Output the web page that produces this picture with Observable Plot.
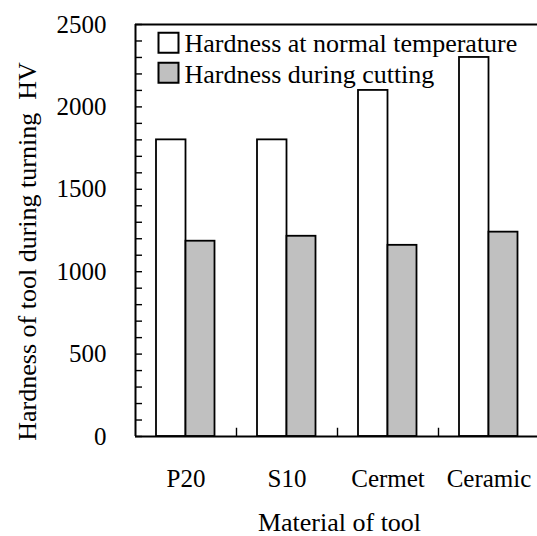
<!DOCTYPE html>
<html>
<head>
<meta charset="utf-8">
<script src="https://cdn.jsdelivr.net/npm/d3@7"></script>
<script src="https://cdn.jsdelivr.net/npm/@observablehq/plot@0.6"></script>
<style>
  html, body { margin: 0; padding: 0; background: #fff; }
  svg, svg text { font-family: "Liberation Serif", "Times New Roman", serif !important; }
</style>
</head>
<body>
<div id="chart"></div>
<script>
const materials = ["P20", "S10", "Cermet", "Ceramic"];
const normalHardness = [1800, 1800, 2100, 2300];
const cuttingHardness = [1185, 1215, 1160, 1240];
const seriesNames = ["Hardness at normal temperature", "Hardness during cutting"];
const seriesColors = ["#ffffff", "#c0c0c0"];
const yMajorTicks = [0, 500, 1000, 1500, 2000, 2500];
const yMinorTicks = d3.range(0, 2501, 100);
const xTitle = "Material of tool";
const yTitle = "Hardness of tool during turning\u00a0\u00a0HV";

const normalRows = materials.map((m, i) => ({material: m, value: normalHardness[i]}));
const cuttingRows = materials.map((m, i) => ({material: m, value: cuttingHardness[i]}));

const serif = "'Liberation Serif', 'Times New Roman', serif";

const chart = Plot.plot({
  width: 537,
  height: 536,
  marginLeft: 135,
  marginRight: 0,
  marginTop: 24,
  marginBottom: 100,
  style: {background: "#fff", color: "#000", fontFamily: serif},
  x: {domain: materials, range: [135, 539], padding: 0},
  y: {domain: [0, 2500], label: null},
  marks: [
    Plot.barY(normalRows, {x: "material", y: "value", fill: seriesColors[0], stroke: "#000", strokeWidth: 1.8, insetLeft: 21, insetRight: 50.5}),
    Plot.barY(cuttingRows, {x: "material", y: "value", fill: seriesColors[1], stroke: "#000", strokeWidth: 1.8, insetLeft: 50.5, insetRight: 21.5}),
    Plot.ruleX(materials.slice(1), {x: d => d, dx: -50.5, y1: 0, y2: 50, stroke: "#000", strokeWidth: 1.4}),
    Plot.ruleY([0, 2500], {stroke: "#000", strokeWidth: 2}),
    Plot.ruleX(materials.slice(0, 1), {x: d => d, dx: -50.5, y1: 0, y2: 2500, stroke: "#000", strokeWidth: 2}),
    Plot.axisY(yMinorTicks, {tickSize: -7, text: null, strokeWidth: 1.4}),
    Plot.axisY(yMajorTicks, {tickSize: 0, tickPadding: 29, fontSize: 25, fontFamily: serif, tickFormat: d => String(d), label: null, fill: "#000"}),
    Plot.axisX(materials, {tickSize: 0, tickPadding: 33, fontSize: 25, fontFamily: serif, label: null, fill: "#000"}),
    Plot.text([xTitle], {frameAnchor: "bottom", dx: 3, dy: 94, lineAnchor: "bottom", textAnchor: "middle", fontSize: 26, fontFamily: serif, fill: "#000"}),
    Plot.text([yTitle], {frameAnchor: "left", rotate: -90, dx: -108, dy: 21, textAnchor: "middle", lineAnchor: "middle", fontSize: 26, fontFamily: serif, fill: "#000"}),
    ...seriesNames.map((s, i) => Plot.dot([s], {frameAnchor: "top-left", dx: 33, dy: 18.2 + i * 30.1, symbol: "square", r: 11.28, fill: seriesColors[i], stroke: "#000", strokeWidth: 2})),
    ...seriesNames.map((s, i) => Plot.text([s], {frameAnchor: "top-left", dx: 49, dy: 27.7 + i * 30.3, textAnchor: "start", lineAnchor: "bottom", fontSize: 26, fontFamily: serif, fill: "#000"}))
  ]
});
document.getElementById("chart").appendChild(chart);
</script>
</body>
</html>
